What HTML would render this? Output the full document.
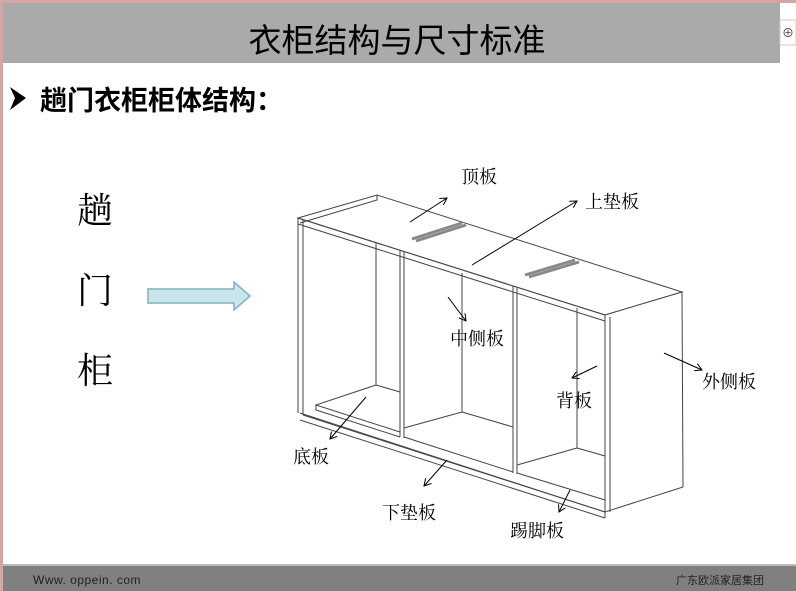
<!DOCTYPE html>
<html><head><meta charset="utf-8"><style>
body{margin:0;width:796px;height:591px;overflow:hidden;background:#fff;font-family:"Liberation Sans","Noto Sans CJK SC",sans-serif;}
</style></head><body>
<svg width="796" height="591" xmlns="http://www.w3.org/2000/svg" style="position:absolute;left:0;top:0">
<defs><marker id="a" markerWidth="8" markerHeight="8" refX="7" refY="4" orient="auto" markerUnits="userSpaceOnUse"><path d="M0,0 L7,4 L0,8" fill="none" stroke="#000" stroke-width="1"/></marker></defs>
<rect x="0" y="0" width="796" height="591" fill="#fff"/>
<rect x="0" y="0" width="3" height="591" fill="#d4a5a5"/>
<rect x="0" y="0" width="796" height="3" fill="#d4a5a5"/>
<rect x="3" y="3" width="777" height="60" fill="#aaaaaa"/>
<rect x="780" y="3" width="16" height="12" fill="#fff"/>
<rect x="780" y="20" width="16" height="25" fill="#fff" stroke="#ccc"/>
<text x="788" y="37" font-size="12" text-anchor="middle" fill="#444">⊕</text>
<text x="397" y="52" font-size="33" text-anchor="middle" font-family="Liberation Sans,'Noto Sans CJK SC',sans-serif">衣柜结构与尺寸标准</text>
<path d="M10,87 L26,98 L10,110 L15,98 Z" fill="#000"/>
<text x="40" y="110" font-size="27" font-weight="bold" font-family="'Noto Sans CJK SC',sans-serif">趟门衣柜柜体结构：</text>
<g font-size="36" text-anchor="middle" font-family="'Noto Serif CJK SC',serif">
<text x="95" y="223">趟</text>
<text x="95" y="303">门</text>
<text x="95" y="383">柜</text>
</g>
<path d="M148,289 L234,289 L234,282 L250,296 L234,310 L234,303 L148,303 Z" fill="#c9e7ea" stroke="#7fb3b8" stroke-width="1.5"/>
<g fill="none" stroke="#444" stroke-width="1">
<path d="M298,218 L377,195 L682,292 L605,315 Z" fill="#fff"/>
<path d="M605,315 L682,292 L683,487 L605,512 Z" fill="#fff"/>
<path d="M298,218 L605,315 M298,224 L605,321"/>
<path d="M298,218 L298,413 M303,220 L303,415"/>
<path d="M300,413 L605,512 M300,420 L605,518 M605,315 L605,518 M610,317 L610,512"/>
<path d="M412,239 L462,223 M416,241 L466,225" stroke="#888" stroke-width="3"/>
<path d="M525,275 L575,260 M529,277 L579,262" stroke="#888" stroke-width="3"/>
<path d="M377,195 L377,200 L300,223"/>
<path d="M400,250 L400,437 M404,251 L404,438"/>
<path d="M513,286 L513,473 M517,287 L517,474"/>
<path d="M376,243 L376,385 M462,273 L462,412 M577,308 L577,448"/>
<path d="M376,385 L400,392 M376,385 L316,405 L400,432 M316,405 L316,410 L400,437"/>
<path d="M462,412 L404,428 M462,412 L513,427"/>
<path d="M577,448 L517,465 M577,448 L605,456"/>
<path d="M404,437 L513,472 M517,473 L605,500 M303,415 L605,512"/>
</g>
<g stroke="#000" stroke-width="1" marker-end="url(#a)">
<line x1="410" y1="222" x2="447" y2="198"/>
<line x1="472" y1="265" x2="577" y2="201"/>
<line x1="448" y1="297" x2="466" y2="321"/>
<line x1="597" y1="366" x2="572" y2="378"/>
<line x1="664" y1="353" x2="702" y2="370"/>
<line x1="366" y1="397" x2="330" y2="439"/>
<line x1="447" y1="460" x2="424" y2="486"/>
<line x1="570" y1="490" x2="559" y2="512"/>
</g>
<g font-size="18" font-family="'Noto Serif CJK SC',serif">
<text x="461" y="183">顶板</text>
<text x="585" y="208">上垫板</text>
<text x="450" y="345">中侧板</text>
<text x="556" y="407">背板</text>
<text x="702" y="388">外侧板</text>
<text x="293" y="463">底板</text>
<text x="382" y="519">下垫板</text>
<text x="510" y="537">踢脚板</text>
</g>
<rect x="3" y="564" width="793" height="2" fill="#bbb"/>
<rect x="3" y="566" width="793" height="25" fill="#808080"/>
<text x="33" y="584" font-size="12" fill="#222" letter-spacing="0.5">Www. oppein. com</text>
<text x="676" y="584" font-size="11" fill="#222" font-family="'Noto Sans CJK SC',sans-serif">广东欧派家居集团</text>
</svg>
</body></html>
